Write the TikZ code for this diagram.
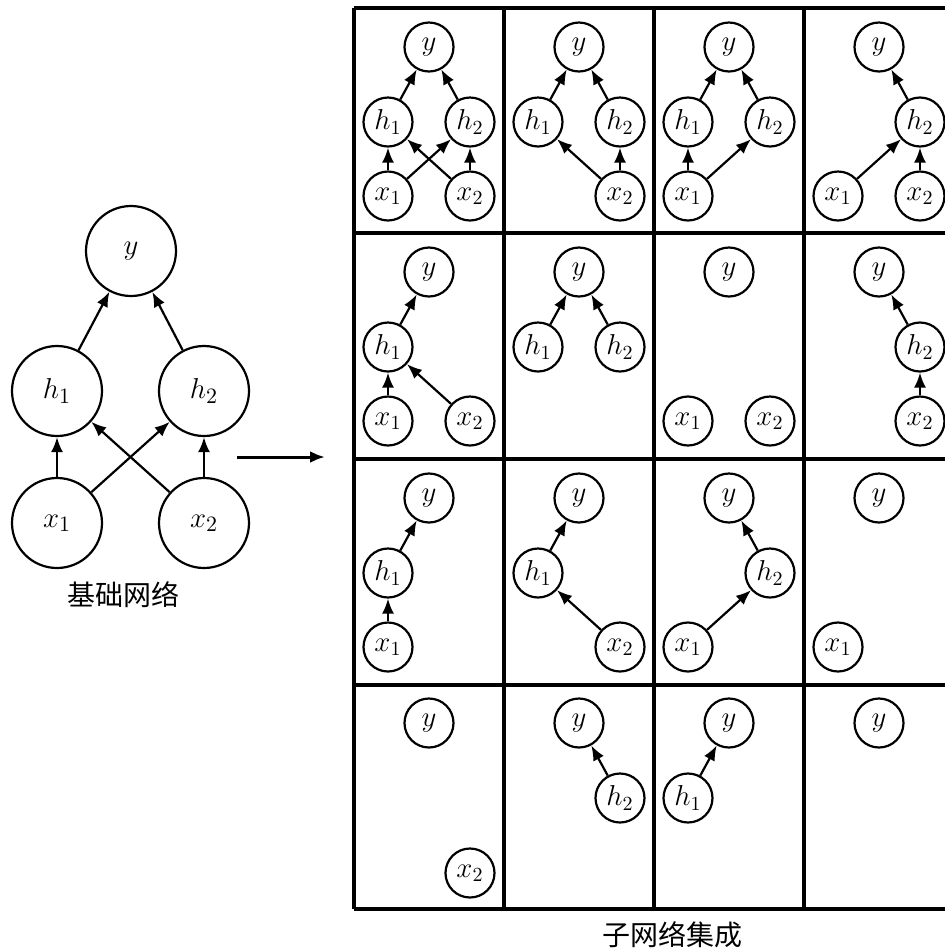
\documentclass[tikz,border=0pt]{standalone}
\usepackage{fontspec}
\newfontfamily\cjk{Noto Sans CJK SC}
\usetikzlibrary{arrows.meta}

\begin{document}
\begin{tikzpicture}[
    x=0.5pt, y=-0.5pt,
    >={Latex[length=7.5pt, width=6pt]},
    arrow/.style={
        ->,
        line width=1.1pt
    },
    unit/.style={
        circle,
        draw,
        fill=white,
        line width=1.1pt,
        inner sep=0pt,
        minimum size=45pt,
        font=\fontsize{15}{17}\selectfont
    },
    small/.style={
        unit,
        minimum size=24.5pt,
        font=\fontsize{14}{16}\selectfont
    },
    grid/.style={
        line width=1.6pt
    },
    caption/.style={
        font=\cjk\fontsize{14}{16}\selectfont
    }
]

    \clip (0,0) rectangle (945,949);

    % --- Base network ---
    \node[unit] (y) at (131,251) {$y$};
    \node[unit] (h1) at (57,391) {$h_1$};
    \node[unit] (h2) at (204,391) {$h_2$};
    \node[unit] (x1) at (57,523) {$x_1$};
    \node[unit] (x2) at (204,523) {$x_2$};
    \draw[arrow] (h1) -- (y);
    \draw[arrow] (h2) -- (y);
    \draw[arrow] (x1) -- (h1);
    \draw[arrow] (x1) -- (h2);
    \draw[arrow] (x2) -- (h1);
    \draw[arrow] (x2) -- (h2);
    \node[caption] (base) at (124,595) {基础网络};

    % Arrow to the ensemble
    \coordinate (from) at (237,457);
    \coordinate (to) at (325,457);
    \draw[arrow, line width=1.5pt] (from) -- (to);

    % --- Grid of sub-networks ---
    \draw[grid] (354,8) -- (954,8);
    \draw[grid] (354,233) -- (954,233);
    \draw[grid] (354,459) -- (954,459);
    \draw[grid] (354,685) -- (954,685);
    \draw[grid] (354,909) -- (954,909);
    \draw[grid] (354,8) -- (354,909);
    \draw[grid] (504,8) -- (504,909);
    \draw[grid] (654,8) -- (654,909);
    \draw[grid] (804,8) -- (804,909);

    % Row 1
    \begin{scope}[shift={(354,8)}]
        \node[small] (a1y) at (75,39) {$y$};
        \node[small] (a1h1) at (34,114) {$h_1$};
        \node[small] (a1h2) at (116,114) {$h_2$};
        \node[small] (a1x1) at (34,188) {$x_1$};
        \node[small] (a1x2) at (116,188) {$x_2$};
        \draw[arrow] (a1h1) -- (a1y);
        \draw[arrow] (a1h2) -- (a1y);
        \draw[arrow] (a1x1) -- (a1h1);
        \draw[arrow] (a1x1) -- (a1h2);
        \draw[arrow] (a1x2) -- (a1h1);
        \draw[arrow] (a1x2) -- (a1h2);
    \end{scope}
    \begin{scope}[shift={(504,8)}]
        \node[small] (a2y) at (75,39) {$y$};
        \node[small] (a2h1) at (34,114) {$h_1$};
        \node[small] (a2h2) at (116,114) {$h_2$};
        \node[small] (a2x2) at (116,188) {$x_2$};
        \draw[arrow] (a2h1) -- (a2y);
        \draw[arrow] (a2h2) -- (a2y);
        \draw[arrow] (a2x2) -- (a2h1);
        \draw[arrow] (a2x2) -- (a2h2);
    \end{scope}
    \begin{scope}[shift={(654,8)}]
        \node[small] (a3y) at (75,39) {$y$};
        \node[small] (a3h1) at (34,114) {$h_1$};
        \node[small] (a3h2) at (116,114) {$h_2$};
        \node[small] (a3x1) at (34,188) {$x_1$};
        \draw[arrow] (a3h1) -- (a3y);
        \draw[arrow] (a3h2) -- (a3y);
        \draw[arrow] (a3x1) -- (a3h1);
        \draw[arrow] (a3x1) -- (a3h2);
    \end{scope}
    \begin{scope}[shift={(804,8)}]
        \node[small] (a4y) at (75,39) {$y$};
        \node[small] (a4h2) at (116,114) {$h_2$};
        \node[small] (a4x1) at (34,188) {$x_1$};
        \node[small] (a4x2) at (116,188) {$x_2$};
        \draw[arrow] (a4h2) -- (a4y);
        \draw[arrow] (a4x1) -- (a4h2);
        \draw[arrow] (a4x2) -- (a4h2);
    \end{scope}

    % Row 2
    \begin{scope}[shift={(354,233)}]
        \node[small] (b1y) at (75,39) {$y$};
        \node[small] (b1h1) at (34,114) {$h_1$};
        \node[small] (b1x1) at (34,188) {$x_1$};
        \node[small] (b1x2) at (116,188) {$x_2$};
        \draw[arrow] (b1h1) -- (b1y);
        \draw[arrow] (b1x1) -- (b1h1);
        \draw[arrow] (b1x2) -- (b1h1);
    \end{scope}
    \begin{scope}[shift={(504,233)}]
        \node[small] (b2y) at (75,39) {$y$};
        \node[small] (b2h1) at (34,114) {$h_1$};
        \node[small] (b2h2) at (116,114) {$h_2$};
        \draw[arrow] (b2h1) -- (b2y);
        \draw[arrow] (b2h2) -- (b2y);
    \end{scope}
    \begin{scope}[shift={(654,233)}]
        \node[small] (b3y) at (75,39) {$y$};
        \node[small] (b3x1) at (34,188) {$x_1$};
        \node[small] (b3x2) at (116,188) {$x_2$};
    \end{scope}
    \begin{scope}[shift={(804,233)}]
        \node[small] (b4y) at (75,39) {$y$};
        \node[small] (b4h2) at (116,114) {$h_2$};
        \node[small] (b4x2) at (116,188) {$x_2$};
        \draw[arrow] (b4h2) -- (b4y);
        \draw[arrow] (b4x2) -- (b4h2);
    \end{scope}

    % Row 3
    \begin{scope}[shift={(354,459)}]
        \node[small] (c1y) at (75,39) {$y$};
        \node[small] (c1h1) at (34,114) {$h_1$};
        \node[small] (c1x1) at (34,188) {$x_1$};
        \draw[arrow] (c1h1) -- (c1y);
        \draw[arrow] (c1x1) -- (c1h1);
    \end{scope}
    \begin{scope}[shift={(504,459)}]
        \node[small] (c2y) at (75,39) {$y$};
        \node[small] (c2h1) at (34,114) {$h_1$};
        \node[small] (c2x2) at (116,188) {$x_2$};
        \draw[arrow] (c2h1) -- (c2y);
        \draw[arrow] (c2x2) -- (c2h1);
    \end{scope}
    \begin{scope}[shift={(654,459)}]
        \node[small] (c3y) at (75,39) {$y$};
        \node[small] (c3h2) at (116,114) {$h_2$};
        \node[small] (c3x1) at (34,188) {$x_1$};
        \draw[arrow] (c3h2) -- (c3y);
        \draw[arrow] (c3x1) -- (c3h2);
    \end{scope}
    \begin{scope}[shift={(804,459)}]
        \node[small] (c4y) at (75,39) {$y$};
        \node[small] (c4x1) at (34,188) {$x_1$};
    \end{scope}

    % Row 4
    \begin{scope}[shift={(354,685)}]
        \node[small] (d1y) at (75,38) {$y$};
        \node[small] (d1x2) at (116,188) {$x_2$};
    \end{scope}
    \begin{scope}[shift={(504,685)}]
        \node[small] (d2y) at (75,38) {$y$};
        \node[small] (d2h2) at (116,113) {$h_2$};
        \draw[arrow] (d2h2) -- (d2y);
    \end{scope}
    \begin{scope}[shift={(654,685)}]
        \node[small] (d3y) at (75,38) {$y$};
        \node[small] (d3h1) at (34,113) {$h_1$};
        \draw[arrow] (d3h1) -- (d3y);
    \end{scope}
    \begin{scope}[shift={(804,685)}]
        \node[small] (d4y) at (75,38) {$y$};
    \end{scope}

    \node[caption] (ensemble) at (672,935) {子网络集成};

\end{tikzpicture}
\end{document}
